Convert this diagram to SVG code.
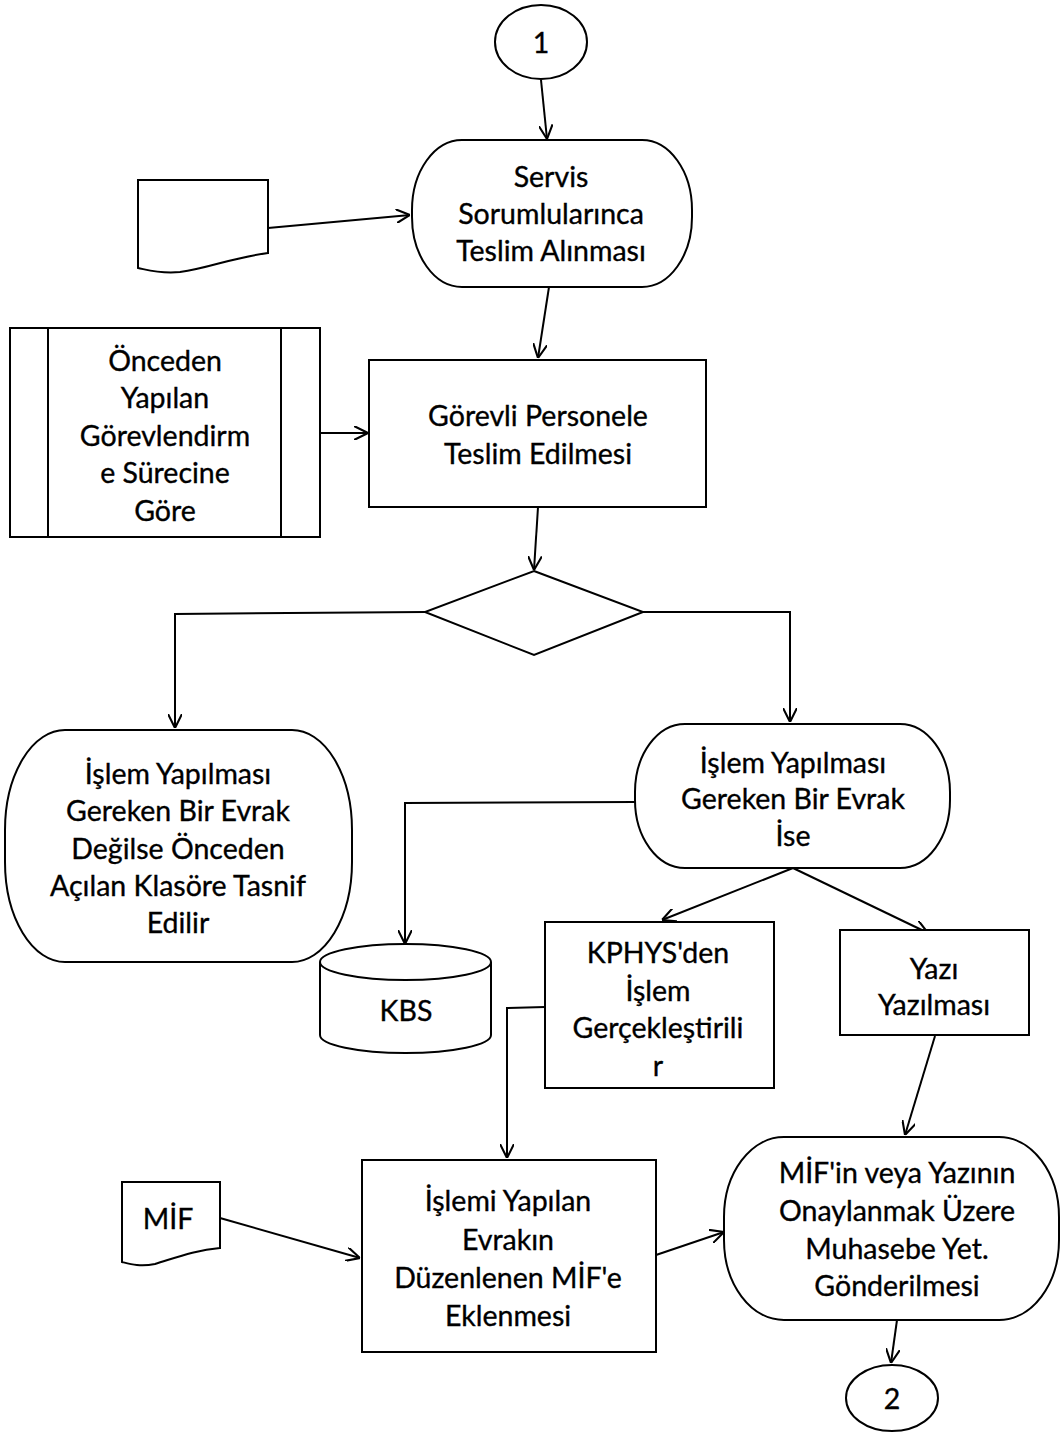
<svg xmlns="http://www.w3.org/2000/svg" width="1061" height="1433" viewBox="0 0 1061 1433">
<style>
.s{fill:#fff;stroke:#000;stroke-width:2}
.c{fill:none;stroke:#000;stroke-width:2}
.t{font-family:Lato,"Open Sans","Liberation Sans",sans-serif;font-size:28.5px;fill:#000;stroke:#000;stroke-width:0.35;text-anchor:middle}
</style>
<defs>
<marker id="a" viewBox="0 0 12 12" refX="12" refY="6" markerWidth="14" markerHeight="14" markerUnits="userSpaceOnUse" orient="auto">
<path d="M0,0 L12,6 L0,12" fill="none" stroke="#000" stroke-width="1.8"/>
</marker>
</defs>
<rect width="1061" height="1433" fill="#fff"/>
<g id="connectors">
<path class="c" d="M541,80 L547,139" marker-end="url(#a)"/>
<path class="c" d="M268,228 L410,215" marker-end="url(#a)"/>
<path class="c" d="M549,287 L538,358" marker-end="url(#a)"/>
<path class="c" d="M320,433 L368,433" marker-end="url(#a)"/>
<path class="c" d="M538,507 L534,570" marker-end="url(#a)"/>
<path class="c" d="M425,612 L175,614 L175,728" marker-end="url(#a)"/>
<path class="c" d="M643,612 L790,612 L790,722" marker-end="url(#a)"/>
<path class="c" d="M635,802 L405,803 L405,944" marker-end="url(#a)"/>
<path class="c" d="M793,868 L662,920" marker-end="url(#a)"/>
<path class="c" d="M793,868 L928,933" marker-end="url(#a)"/>
<path class="c" d="M545,1007 L507,1008 L507,1158" marker-end="url(#a)"/>
<path class="c" d="M935,1036 L905,1135" marker-end="url(#a)"/>
<path class="c" d="M220,1218 L360,1258" marker-end="url(#a)"/>
<path class="c" d="M656,1255 L724,1232" marker-end="url(#a)"/>
<path class="c" d="M897,1320 L891,1363" marker-end="url(#a)"/>
</g>
<g id="start">
<ellipse class="s" cx="541" cy="42" rx="46" ry="37"/>
<text class="t" x="541" y="53">1</text>
</g>
<g id="servis">
<rect class="s" x="412" y="140" width="280" height="147" rx="50" ry="70"/>
<text class="t" x="551" y="187">Servis</text>
<text class="t" x="551" y="224">Sorumlularınca</text>
<text class="t" x="551" y="261">Teslim Alınması</text>
</g>
<g id="doc1">
<path class="s" d="M138,180 H268 V253 C230,258 210,268 180,272 C160,274 148,270 138,268 Z"/>
</g>
<g id="onceden">
<rect class="s" x="10" y="328" width="310" height="209"/>
<line class="c" x1="48" y1="328" x2="48" y2="537"/>
<line class="c" x1="281" y1="328" x2="281" y2="537"/>
<text class="t" x="165" y="371">Önceden</text>
<text class="t" x="165" y="408">Yapılan</text>
<text class="t" x="165" y="446">Görevlendirm</text>
<text class="t" x="165" y="483">e Sürecine</text>
<text class="t" x="165" y="521">Göre</text>
</g>
<g id="gorevli">
<rect class="s" x="369" y="360" width="337" height="147"/>
<text class="t" x="538" y="426">Görevli Personele</text>
<text class="t" x="538" y="464">Teslim Edilmesi</text>
</g>
<g id="decision">
<path class="s" d="M534,571 L643,612 L534,655 L425,612 Z"/>
</g>
<g id="degilse">
<rect class="s" x="5" y="730" width="347" height="232" rx="60" ry="100"/>
<text class="t" x="178" y="784">İşlem Yapılması</text>
<text class="t" x="178" y="821">Gereken Bir Evrak</text>
<text class="t" x="178" y="859">Değilse Önceden</text>
<text class="t" x="178" y="896">Açılan Klasöre Tasnif</text>
<text class="t" x="178" y="933">Edilir</text>
</g>
<g id="ise">
<rect class="s" x="635" y="724" width="315" height="144" rx="50" ry="68"/>
<text class="t" x="793" y="773">İşlem Yapılması</text>
<text class="t" x="793" y="809">Gereken Bir Evrak</text>
<text class="t" x="793" y="846">İse</text>
</g>
<g id="kbs">
<path class="s" d="M320,962 V1035 A85.5,18 0 0 0 491,1035 V962"/>
<ellipse class="s" cx="405.5" cy="962" rx="85.5" ry="18"/>
<text class="t" x="406" y="1021">KBS</text>
</g>
<g id="kphys">
<rect class="s" x="545" y="922" width="229" height="166"/>
<text class="t" x="658" y="963">KPHYS'den</text>
<text class="t" x="658" y="1001">İşlem</text>
<text class="t" x="658" y="1038">Gerçekleştirili</text>
<text class="t" x="658" y="1076">r</text>
</g>
<g id="yazi">
<rect class="s" x="840" y="930" width="189" height="105"/>
<text class="t" x="934" y="979">Yazı</text>
<text class="t" x="934" y="1015">Yazılması</text>
</g>
<g id="mifdoc">
<path class="s" d="M122,1182 H220 V1248 C195,1250 175,1258 155,1264 C140,1267 130,1264 122,1262 Z"/>
<text class="t" x="168" y="1229">MİF</text>
</g>
<g id="islemi">
<rect class="s" x="362" y="1160" width="294" height="192"/>
<text class="t" x="508" y="1211">İşlemi Yapılan</text>
<text class="t" x="508" y="1250">Evrakın</text>
<text class="t" x="508" y="1288">Düzenlenen MİF'e</text>
<text class="t" x="508" y="1326">Eklenmesi</text>
</g>
<g id="gonder">
<rect class="s" x="724" y="1137" width="335" height="183" rx="60" ry="80"/>
<text class="t" x="897" y="1183">MİF'in veya Yazının</text>
<text class="t" x="897" y="1221">Onaylanmak Üzere</text>
<text class="t" x="897" y="1259">Muhasebe Yet.</text>
<text class="t" x="897" y="1296">Gönderilmesi</text>
</g>
<g id="end">
<ellipse class="s" cx="892" cy="1398" rx="46" ry="33"/>
<text class="t" x="892" y="1409">2</text>
</g>
</svg>
